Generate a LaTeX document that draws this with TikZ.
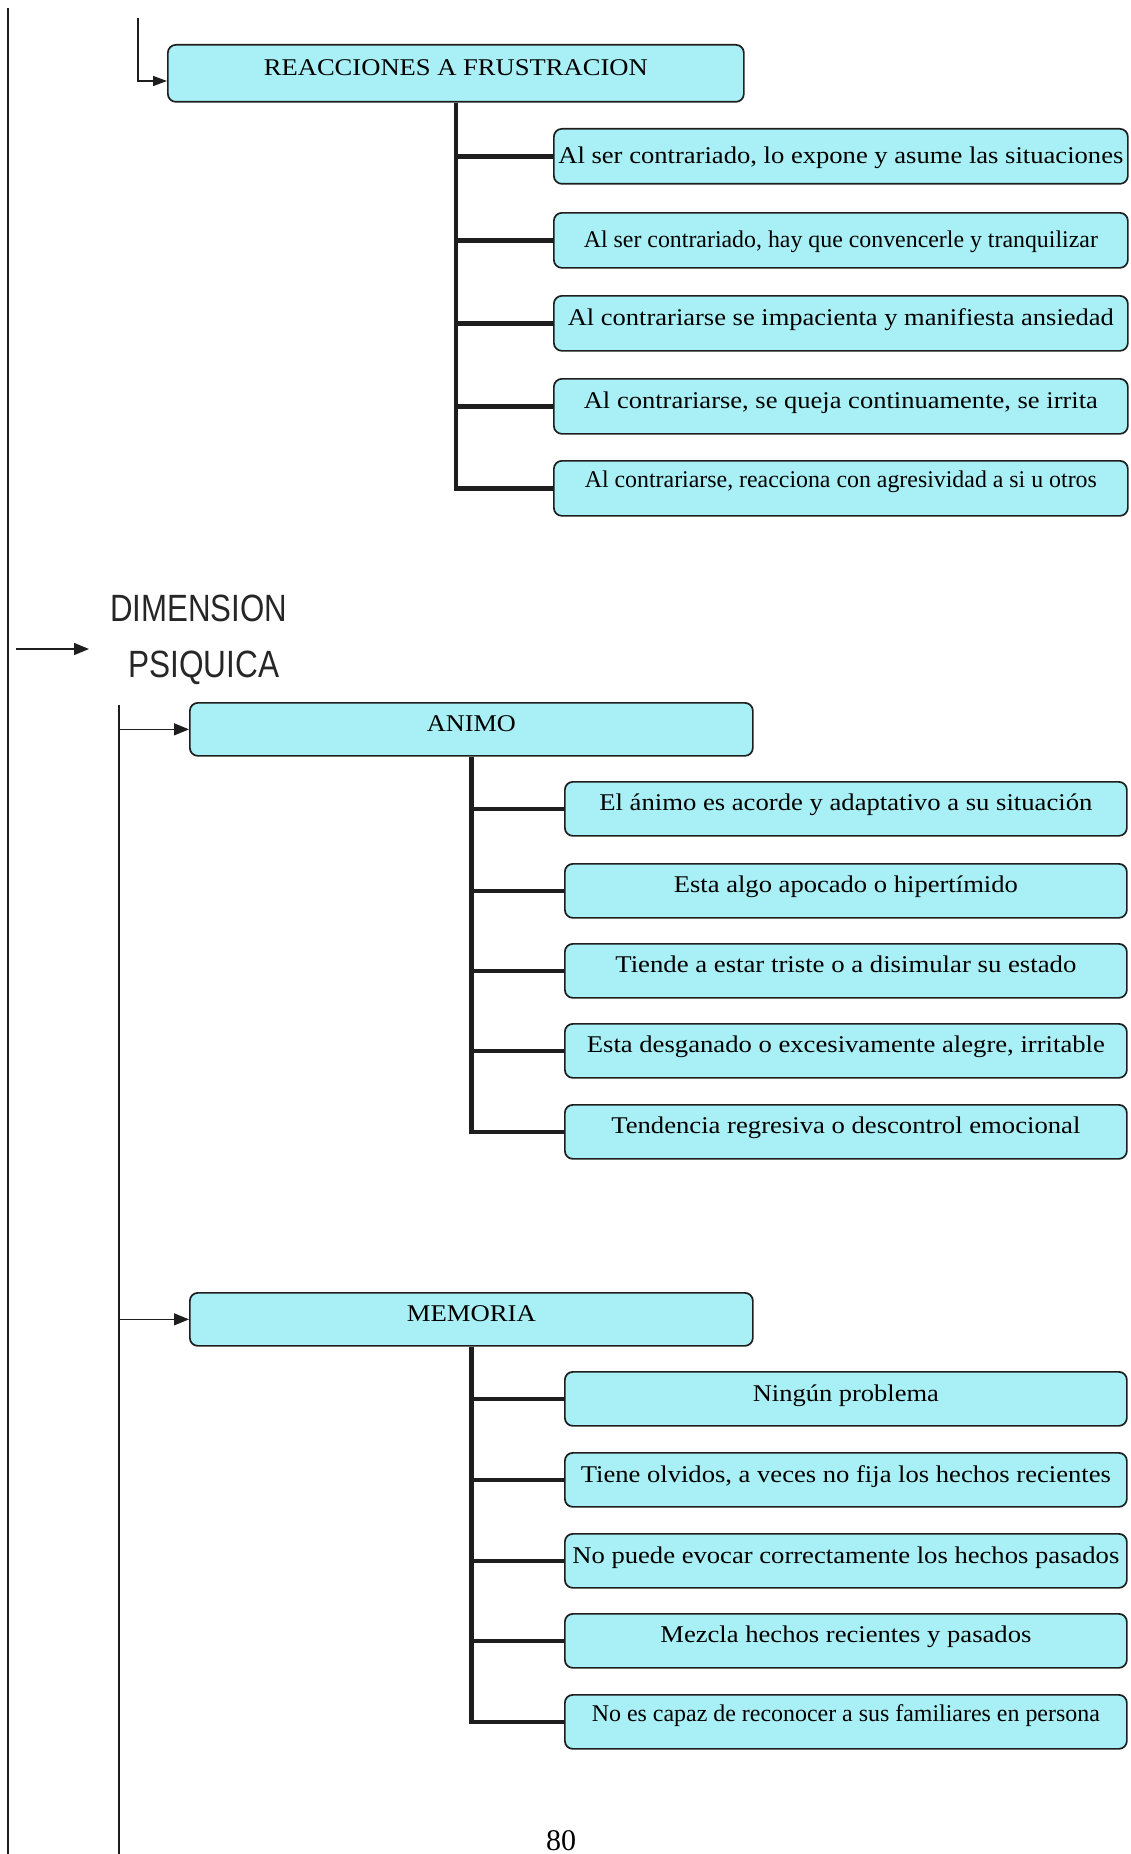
\documentclass[tikz,border=0pt]{standalone}
\usepackage{graphicx}
\usepackage{fontspec}
\setmainfont{Liberation Serif}
\newfontfamily\arialf{Liberation Sans}
\usetikzlibrary{arrows.meta}
\definecolor{boxc}{RGB}{168,240,245}
\definecolor{linec}{RGB}{30,30,30}
\newcommand{\fw}[2]{\resizebox{#1pt}{\height}{#2}}
\tikzset{
  bx/.style={draw=linec, line width=1.7pt, fill=boxc, rounded corners=8pt,
    inner sep=0pt, anchor=north west, text=black},
  hb/.style n args={2}{text height=#1pt, text depth=#2pt},
  headbox/.style={bx, minimum width=563pt, hb={29}{24}, font=\fontsize{24}{24}\selectfont},
  rbox/.style={bx, minimum width=574pt, font=\fontsize{24}{24}\selectfont},
  cbox/.style={bx, minimum width=562pt, font=\fontsize{24}{24}\selectfont},
  trunk/.style={draw=linec, line width=4.5pt},
  thinl/.style={draw=linec, line width=1.3pt},
  arr/.style={thinl, -{Triangle[length=15pt,width=12pt]}},
  sarr/.style={thinl, -{Triangle[length=14pt,width=10pt]}},
  sanslbl/.style={anchor=base west, inner sep=0pt, font=\arialf\fontsize{38}{38}\selectfont, text=black!85},
}
\begin{document}
\begin{tikzpicture}[x=1pt,y=-1pt]
\useasboundingbox (0,0) rectangle (1131,1854);

% outer and inner vertical lines
\coordinate (o0) at (8,8);
\coordinate (o1) at (8,1854);
\draw[thinl] (o0) -- (o1);
\coordinate (v0) at (119,705);
\coordinate (v1) at (119,1854);
\draw[thinl] (v0) -- (v1);

% REACCIONES A FRUSTRACION
\node[bx, minimum width=576pt, hb={31}{26}, font=\fontsize{24}{24}\selectfont] (R) at (167,44) {\fw{384}{REACCIONES A FRUSTRACION}};
\coordinate (t0) at (138,18);
\coordinate (t1) at (138,81);
\draw[sarr] (t0) -- (t1) -- (t1 -| R.west);

\node[rbox, hb={35}{20}] (R1) at (553,128) {\fw{565}{Al ser contrariado, lo expone y asume las situaciones}};
\node[rbox, hb={35}{20}] (R2) at (553,212) {\fw{514}{Al ser contrariado, hay que convencerle y tranquilizar}};
\node[rbox, hb={30}{25}] (R3) at (553,295) {\fw{546}{Al contrariarse se impacienta y manifiesta ansiedad}};
\node[rbox, hb={30}{25}] (R4) at (553,378) {\fw{514}{Al contrariarse, se queja continuamente, se irrita}};
\node[rbox, hb={27}{28}] (R5) at (553,460) {\fw{512}{Al contrariarse, reacciona con agresividad a si u otros}};

\draw[trunk] (R.south) |- (R5.west);
\foreach \c in {R1,R2,R3,R4}{\draw[trunk] (R.south |- \c.west) -- (\c.west);}

% DIMENSION PSIQUICA
\node[sanslbl] (D1) at (110,621) {\fw{177}{DIMENSION}};
\node[sanslbl] (D2) at (128,677) {\fw{151}{PSIQUICA}};
\coordinate (d0) at (16,649);
\coordinate (d1) at (89,649);
\draw[arr] (d0) -- (d1);

% ANIMO
\node[headbox] (A) at (189,702) {\fw{89}{ANIMO}};
\draw[arr] (A.west -| v0) -- (A.west);
\node[cbox, hb={29}{25}] (A1) at (564,781) {\fw{493}{El ánimo es acorde y adaptativo a su situación}};
\node[cbox, hb={29}{25}] (A2) at (564,863) {\fw{344}{Esta algo apocado o hipertímido}};
\node[cbox, hb={29}{25}] (A3) at (564,943) {\fw{461}{Tiende a estar triste o a disimular su estado}};
\node[cbox, hb={29}{25}] (A4) at (564,1023) {\fw{518}{Esta desganado o excesivamente alegre, irritable}};
\node[cbox, hb={29}{25}] (A5) at (564,1104) {\fw{469}{Tendencia regresiva o descontrol emocional}};
\draw[trunk] (A.south) |- (A5.west);
\foreach \c in {A1,A2,A3,A4}{\draw[trunk] (A.south |- \c.west) -- (\c.west);}

% MEMORIA
\node[headbox] (M) at (189,1292) {\fw{129}{MEMORIA}};
\draw[arr] (M.west -| v0) -- (M.west);
\node[cbox, hb={30}{24}] (M1) at (564,1371) {\fw{186}{Ningún problema}};
\node[cbox, hb={30}{24}] (M2) at (564,1452) {\fw{530}{Tiene olvidos, a veces no fija los hechos recientes}};
\node[cbox, hb={30}{24}] (M3) at (564,1533) {\fw{547}{No puede evocar correctamente los hechos pasados}};
\node[cbox, hb={29}{25}] (M4) at (564,1613) {\fw{371}{Mezcla hechos recientes y pasados}};
\node[cbox, hb={27}{27}] (M5) at (564,1694) {\fw{508}{No es capaz de reconocer a sus familiares en persona}};
\draw[trunk] (M.south) |- (M5.west);
\foreach \c in {M1,M2,M3,M4}{\draw[trunk] (M.south |- \c.west) -- (\c.west);}

% page number
\node[anchor=base, inner sep=0pt, font=\fontsize{30}{30}\selectfont] (pg) at (561,1850) {80};
\end{tikzpicture}
\end{document}
